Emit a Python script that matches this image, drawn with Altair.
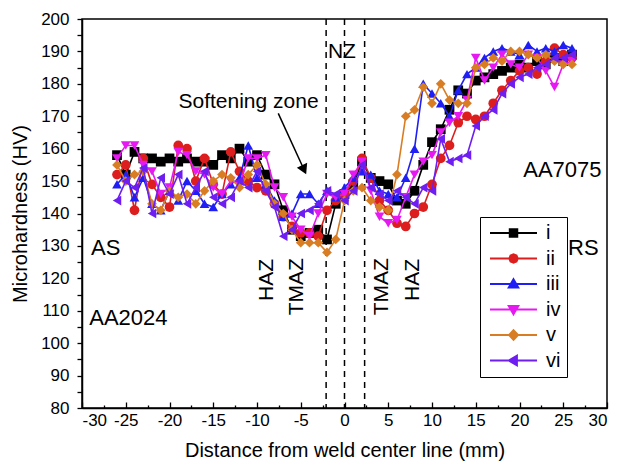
import altair as alt
import pandas as pd

# ---------------- data ----------------
positions = list(range(-26, 27))
series_names = ["i", "ii", "iii", "iv", "v", "vi"]
series_colors = ["#000000", "#DC1E1E", "#1F1FF5", "#E619F2", "#D87D23", "#6E1EF0"]
marker_shapes = ["square", "circle", "triangle-up", "triangle-down", "diamond", "triangle-left"]

hv_i = [158, 152, 159, 157, 157, 156, 157, 156, 157, 156, 156, 155, 158, 157, 160, 156, 158,
        152, 149, 141, 135, 133, 134, 135, 132, 143, 146, 149, 156, 151, 150, 149, 144, 143,
        147, 155, 162, 166, 172, 178, 177, 181, 182, 183, 184, 185, 186, 185, 187, 186, 188, 187, 189]
hv_ii = [152, 155, 141, 157, 149, 145, 142, 161, 160, 150, 157, 149, 146, 159, 153, 150, 148,
         147, 143, 139, 136, 134, 134, 133, 141, 144, 146, 150, 157, 151, 144, 141, 137, 136,
         140, 142, 149, 157, 161, 168, 170, 169, 170, 174, 178, 181, 184, 185, 183, 187, 191, 189, 188]
hv_iii = [149, 152, 145, 151, 143, 141, 147, 144, 150, 147, 143, 142, 146, 149, 151, 161, 151,
          149, 144, 139, 140, 146, 146, 143, 147, 145, 148, 151, 153, 152, 147, 146, 145, 151,
          160, 180, 177, 174, 170, 178, 183, 185, 188, 190, 191, 190, 189, 192, 190, 191, 190, 192, 191]
hv_iv = [157, 161, 161, 155, 153, 146, 148, 159, 158, 153, 152, 148, 146, 150, 149, 157, 157,
         158, 148, 145, 139, 135, 133, 140, 146, 145, 146, 152, 156, 147, 139, 137, 138, 145,
         152, 156, 158, 165, 168, 170, 175, 188, 181, 185, 189, 186, 185, 189, 188, 184, 179, 186, 187]
hv_v = [155, 150, 152, 153, 143, 141, 147, 145, 146, 143, 147, 150, 152, 151, 148, 152, 155,
        149, 143, 140, 135, 131, 131, 131, 128, 132, 144, 147, 148, 144, 142, 141, 152, 170,
        172, 179, 174, 180, 175, 174, 174, 185, 186, 188, 187, 190, 190, 189, 188, 189, 187, 186, 186]
hv_vi = [144, 150, 148, 154, 140, 151, 146, 152, 143, 148, 153, 145, 143, 145, 150, 148, 153,
         147, 142, 133, 135, 140, 141, 143, 147, 146, 144, 147, 155, 148, 146, 144, 147, 145,
         143, 148, 147, 163, 156, 157, 158, 167, 170, 172, 177, 180, 182, 183, 185, 186, 188, 188, 189]

all_values = [hv_i, hv_ii, hv_iii, hv_iv, hv_v, hv_vi]

zone_lines = [-2.1, 0.0, 2.3]

text_labels = ["Softening zone", "NZ", "AS", "AA2024", "RS", "AA7075"]
text_x = [-10.97, -0.3, -27.3, -24.7, 27.3, 24.9]
text_hv = [174.5, 189.9, 129.4, 107.8, 129.4, 153.4]
text_sizes = [21, 21, 22, 22, 22, 22]

zone_labels = ["HAZ", "TMAZ", "TMAZ", "HAZ"]
zone_x = [-8.85, -5.45, 4.27, 7.85]
zone_hv = [119.5, 117.4, 117.4, 119.5]

arrow_start = (-7.57, 170.9)
arrow_head = (-4.62, 153.5)

x_ticks = [-30 + 2.5 * k for k in range(25)]
y_ticks = list(range(80, 205, 5))

# legend symbols: a line with the marker on it (custom SVG paths, unit = symbol radius)
legend_paths = [
    "M-1,0H6.83M2.28,-0.64H3.56V0.64H2.28Z",
    "M-1,0H6.83M2.2,0L2.41,-0.51L2.92,-0.72L3.43,-0.51L3.64,0L3.43,0.51L2.92,0.72L2.41,0.51Z",
    "M-1,0H6.83M2.92,-0.82L3.74,0.6L2.1,0.6Z",
    "M-1,0H6.83M2.92,0.82L3.74,-0.6L2.1,-0.6Z",
    "M-1,0H6.83M2.92,-0.82L3.69,0L2.92,0.82L2.15,0Z",
    "M-1,0H6.83M2.1,0L3.5,-0.82L3.5,0.82Z",
]

rows = []
for name, vals in zip(series_names, all_values):
    for xv, yv in zip(positions, vals):
        rows.append({"x": xv, "hv": yv, "series": name})
df = pd.DataFrame(rows)

FONT = "Liberation Sans"

xscale = alt.Scale(domain=[-30, 30], nice=False, zero=False)
yscale = alt.Scale(domain=[80, 200], nice=False, zero=False)

x_axis = alt.Axis(
    values=x_ticks,
    labelExpr="datum.value % 5 === 0 ? '' + datum.value : ''",
    tickSize={"expr": "datum.value % 5 === 0 ? -6 : -3"},
    labelPadding=10,
    titlePadding=12,
    grid=False,
)
y_axis = alt.Axis(
    values=y_ticks,
    labelExpr="datum.value % 10 === 0 ? '' + datum.value : ''",
    tickSize=5,
    labelPadding=8,
    titlePadding=10,
    grid=False,
)

X = alt.X("x:Q", scale=xscale, axis=x_axis, title="Distance from weld center line (mm)")
Y = alt.Y("hv:Q", scale=yscale, axis=y_axis, title="Microhardness (HV)")

base = alt.Chart(df)

layers = []

rules = alt.Chart(pd.DataFrame({"x": zone_lines})).mark_rule(
    color="black", strokeWidth=1.5, strokeDash=[6, 5]
).encode(x=X)
layers.append(rules)

# each series: line + markers, each with its own colour (no colour scale here)
for name, shape, col in zip(series_names, marker_shapes, series_colors):
    sub = base.transform_filter(alt.datum.series == name)
    line = sub.mark_line(strokeWidth=1.6, color=col).encode(x=X, y=Y)
    pts = sub.mark_point(shape=shape, filled=True, size=95, opacity=1, color=col).encode(x=X, y=Y)
    layers += [line, pts]

# legend layer (its own marks are invisible; only the legend is shown)
leg = alt.Legend(
    title=None,
    orient="none",
    legendX=398,
    legendY=198,
    symbolSize=144,
    symbolStrokeWidth=1.8,
    symbolOpacity=1,
    labelFont=FONT,
    labelFontSize=20,
    labelColor="black",
    labelOffset=40,
    rowPadding=5.5,
    padding=6,
    strokeColor="black",
    fillColor="white",
)
legend_layer = base.mark_point(filled=True, opacity=0, size=1).encode(
    x=X,
    y=Y,
    color=alt.Color("series:N", scale=alt.Scale(domain=series_names, range=series_colors), legend=leg),
    stroke=alt.Stroke("series:N", scale=alt.Scale(domain=series_names, range=series_colors), legend=leg),
    shape=alt.Shape("series:N", scale=alt.Scale(domain=series_names, range=legend_paths), legend=leg),
)
layers.append(legend_layer)

# annotations
txt_df = pd.DataFrame({"x": text_x, "hv": text_hv, "label": text_labels, "fs": text_sizes})
texts = alt.Chart(txt_df).mark_text(
    font=FONT, color="black", align="center", baseline="middle"
).encode(x=X, y=Y, text="label:N", size=alt.Size("fs:Q", scale=None, legend=None))
layers.append(texts)

zone_df = pd.DataFrame({"x": zone_x, "hv": zone_hv, "label": zone_labels})
zone_texts = alt.Chart(zone_df).mark_text(
    font=FONT, fontSize=21, color="black", align="center", baseline="middle", angle=270
).encode(x=X, y=Y, text="label:N")
layers.append(zone_texts)

arrow_df = pd.DataFrame({"x": [arrow_start[0]], "hv": [arrow_start[1]],
                         "x2": [arrow_head[0]], "hv2": [arrow_head[1]]})
arrow_line = alt.Chart(arrow_df).mark_rule(color="black", strokeWidth=1.5).encode(
    x=X, y=Y, x2="x2:Q", y2="hv2:Q"
)
head_df = pd.DataFrame({"x": [arrow_head[0]], "hv": [arrow_head[1]]})
arrow_tip = alt.Chart(head_df).mark_point(
    shape="triangle-up", filled=True, size=130, angle=155, color="black", opacity=1
).encode(x=X, y=Y)
layers += [arrow_line, arrow_tip]

chart = alt.layer(*layers).properties(
    width=525,
    height=389,
    autosize=alt.AutoSizeParams(type="none"),
    padding={"left": 82, "top": 19, "right": 10, "bottom": 56},
    background="white",
).configure_view(
    stroke="black", strokeWidth=1.5
).configure_axis(
    domainColor="black",
    domainWidth=1.5,
    tickColor="black",
    tickWidth=1.3,
    labelColor="black",
    labelFont=FONT,
    labelFontSize=17,
    titleFont=FONT,
    titleFontSize=20,
    titleFontWeight="normal",
    titleColor="black",
)

chart.save("out.html", embed_options={"renderer": "svg", "actions": False})
